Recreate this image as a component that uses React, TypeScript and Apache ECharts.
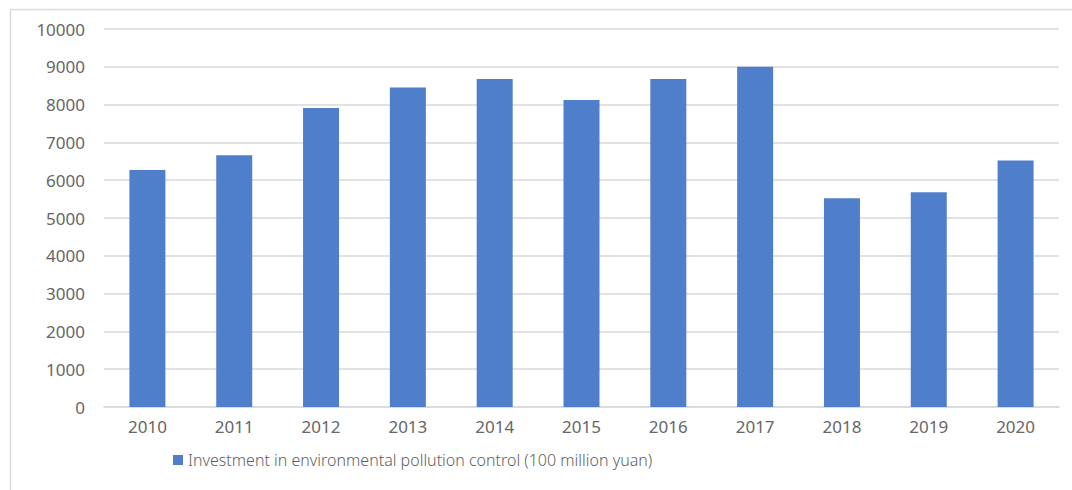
import React, { useEffect, useRef } from "react";
import * as echarts from "echarts";

const years = ["2010", "2011", "2012", "2013", "2014", "2015", "2016", "2017", "2018", "2019", "2020"];
const investment = [6270, 6660, 7910, 8450, 8680, 8120, 8680, 9000, 5520, 5680, 6520];
const seriesName = "Investment in environmental pollution control (100 million yuan)";

export default function App() {
  const ref = useRef<HTMLDivElement>(null);
  useEffect(() => {
    if (!ref.current) return;
    const chart = echarts.init(ref.current, null, { renderer: "svg" });
    chart.setOption({
      animation: false,
      backgroundColor: "#ffffff",
      graphic: [
        {
          type: "rect",
          left: 8,
          top: 7,
          shape: { width: 1100, height: 520 },
          style: { fill: "none", stroke: "#d9d9d9", lineWidth: 1.5 },
          silent: true,
        },
      ],
      grid: { left: 104, right: 13, top: 29, bottom: 83 },
      legend: {
        bottom: 17,
        left: 168,
        icon: "rect",
        itemWidth: 10,
        itemHeight: 10,
        itemGap: 4,
        textStyle: { fontFamily: "Noto Sans", fontSize: 16, color: "#5f5f5f", fontWeight: 300 },
        data: [seriesName],
      },
      xAxis: {
        type: "category",
        data: years,
        axisTick: { show: false },
        axisLine: { lineStyle: { color: "#d9d9d9", width: 1.5 } },
        axisLabel: { color: "#666666", fontFamily: "Noto Sans", fontSize: 17, margin: 11 },
      },
      yAxis: {
        type: "value",
        min: 0,
        max: 10000,
        interval: 1000,
        axisLine: { show: false },
        axisTick: { show: false },
        splitLine: { lineStyle: { color: "#d9d9d9", width: 1.5 } },
        axisLabel: {
          color: "#666666",
          fontFamily: "Noto Sans",
          fontSize: 17,
          margin: 19,
          formatter: (v: number) => String(v),
        },
      },
      series: [
        {
          name: seriesName,
          type: "bar",
          data: investment,
          barWidth: 36,
          itemStyle: { color: "#4f7fcb" },
        },
      ],
    });
    return () => chart.dispose();
  }, []);
  return (
    <div
      ref={ref}
      style={{ position: "fixed", left: 0, top: 0, width: 1072, height: 490 }}
    />
  );
}
